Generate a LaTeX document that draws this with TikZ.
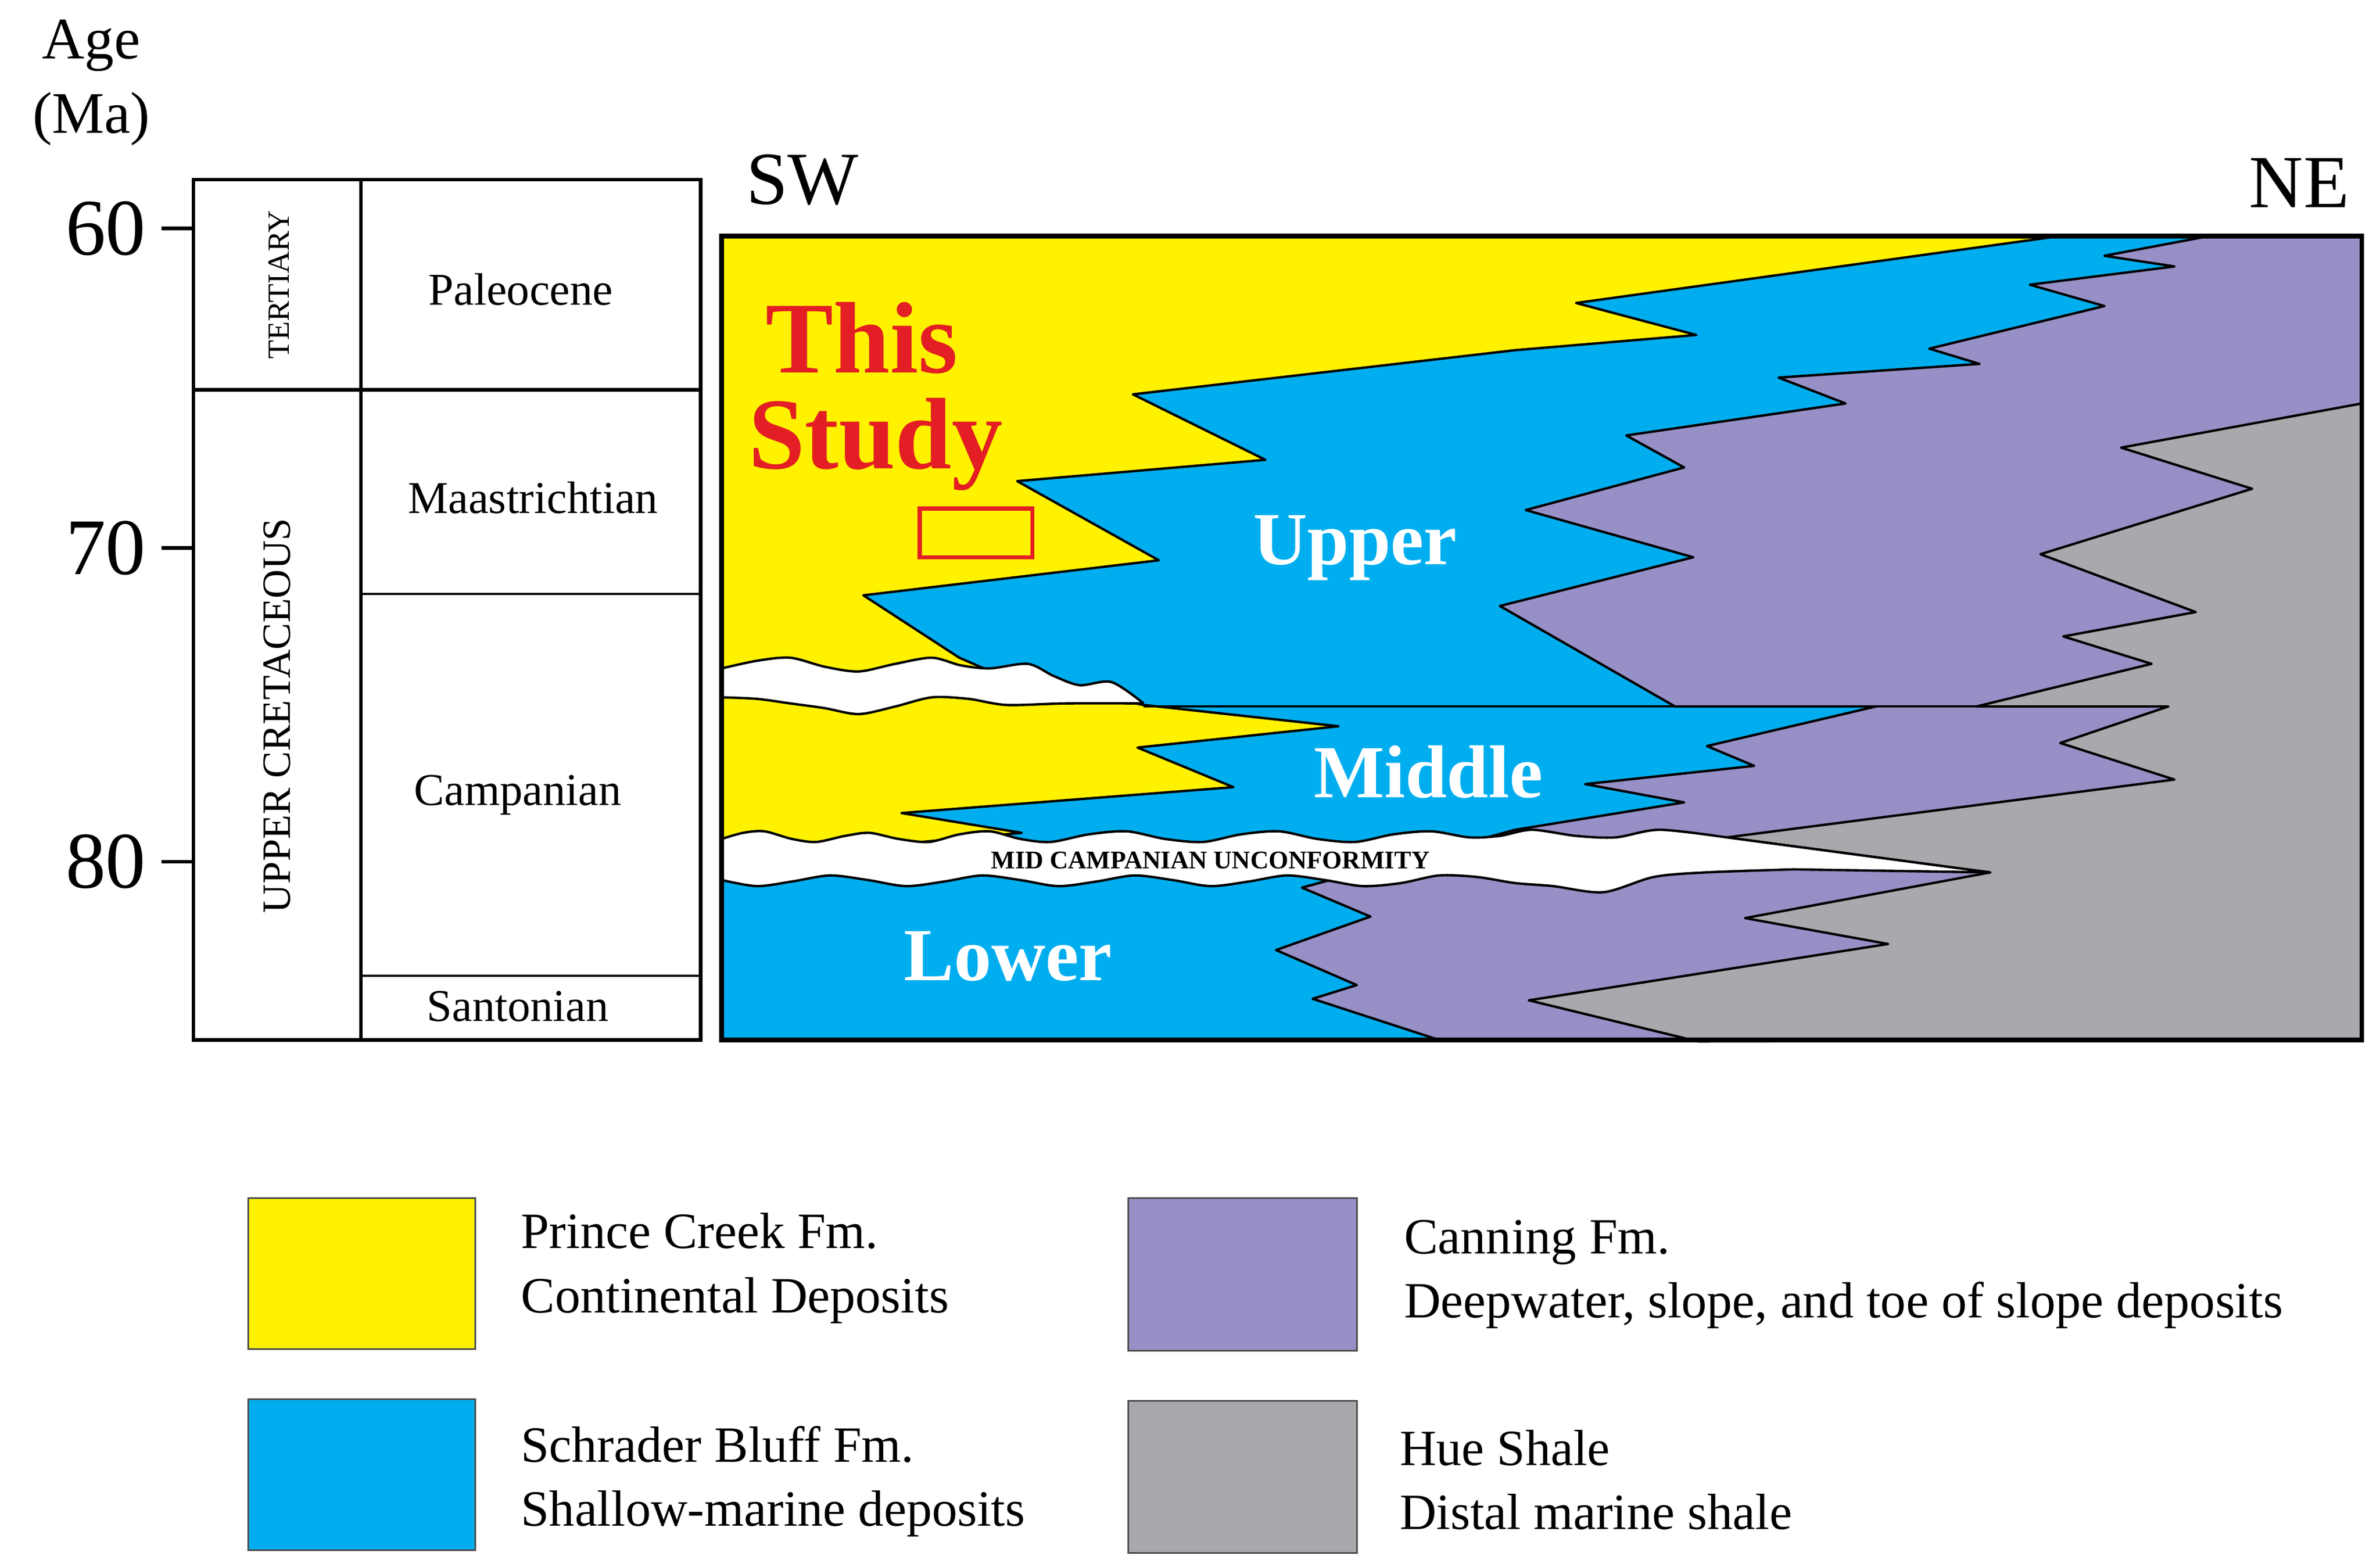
\documentclass[tikz,border=0pt]{standalone}
\usepackage{fontspec}
\setmainfont{Liberation Serif}
\begin{document}
\begin{tikzpicture}[x=0.02cm,y=-0.02cm,
  bnd/.style={draw=black,line width=0.9pt,line join=round},
  tbl/.style={draw=black,line width=1.4pt},
  lbl/.style={font=\fontsize{17}{20}\selectfont},
  leg/.style={font=\fontsize{19}{24}\selectfont,align=left,anchor=west},
  big/.style={font=\bfseries\fontsize{28}{30}\selectfont,text=white},
  legbox/.style={draw=black!70,line width=0.6pt}]
\definecolor{cY}{HTML}{FFF200}
\definecolor{cB}{HTML}{00AEEF}
\definecolor{cP}{HTML}{9690C6}
\definecolor{cG}{HTML}{A7A9AC}
\definecolor{cR}{HTML}{E31E24}
\useasboundingbox (0,0) rectangle (1563,1029);
% section fill
\fill[cY] (474,155) rectangle (1551,683);
\path[fill=cB,bnd] (1353,155) -- (1035,199) -- (1114,220) -- (995,230) -- (744,259) -- (831,302) -- (668,316) -- (761,368) -- (567,391) -- (630,432) -- (660,445) -- (751,463) -- (879,477) -- (747,491) -- (810,517) -- (592,534) -- (671,547) -- (474,565) -- (474,683) -- (1551,683) -- (1551,155) -- cycle;
\path[fill=cP,bnd] (1451,155) -- (1382,168) -- (1428,175) -- (1333,187) -- (1382,201) -- (1267,229) -- (1300,239) -- (1168,248) -- (1212,265) -- (1068,286) -- (1106,307) -- (1002,335) -- (1112,366) -- (985,398) -- (1100,464) -- (1232,464) -- (1121,490) -- (1152,503) -- (1041,515) -- (1106,527) -- (995,545) -- (855,583) -- (900,602) -- (838,624) -- (891,647) -- (862,656) -- (945,683) -- (1551,683) -- (1551,155) -- cycle;
\path[fill=cG,bnd] (1551,265) -- (1393,294) -- (1479,321) -- (1340,364) -- (1442,402) -- (1355,418) -- (1413,436) -- (1298,464) -- (1424,464) -- (1353,488) -- (1428,512) -- (1134,550) -- (1307,573) -- (1146,603) -- (1240,620) -- (1004,657) -- (1115,684) -- (1551,683) -- cycle;
\draw[bnd] (751,464) -- (1424,464);
% white bands
\path[fill=white] plot[smooth] coordinates {(474,439)(497,434)(519,432)(542,438)(564,441)(588,436)(612,432)(631,437)(650,439)(675,436)(692,444)(709,450)(730,448)(751,462)} -- plot[smooth] coordinates {(751,462)(700,462)(661,463)(636,459)(612,458)(588,464)(564,469)(541,465)(519,462)(497,459)(474,458)} -- cycle;
\draw[bnd] plot[smooth] coordinates {(474,439)(497,434)(519,432)(542,438)(564,441)(588,436)(612,432)(631,437)(650,439)(675,436)(692,444)(709,450)(730,448)(751,462)};
\draw[bnd] plot[smooth] coordinates {(751,462)(700,462)(661,463)(636,459)(612,458)(588,464)(564,469)(541,465)(519,462)(497,459)(474,458)};
\path[fill=white] plot[smooth] coordinates {(474,551)(488,547)(502,546)(520,551)(536,553)(555,549)(571,547)(590,551)(610,553)(630,548)(650,546)(670,551)(690,553)(715,548)(740,546)(765,551)(790,553)(815,548)(840,546)(865,551)(890,553)(915,548)(940,546)(965,550)(985,549)(1006,545)(1035,549)(1061,550)(1090,545)(1134,550)} -- (1307,573) -- plot[smooth] coordinates {(1178,571)(1120,573)(1086,576)(1053,586)(1020,582)(995,580)(970,576)(945,575)(920,580)(895,582)(870,578)(845,575)(820,579)(795,582)(770,578)(745,575)(720,579)(695,582)(670,578)(645,575)(620,579)(595,582)(570,578)(545,575)(520,579)(497,582)(474,578)} -- cycle;
\draw[bnd] plot[smooth] coordinates {(474,551)(488,547)(502,546)(520,551)(536,553)(555,549)(571,547)(590,551)(610,553)(630,548)(650,546)(670,551)(690,553)(715,548)(740,546)(765,551)(790,553)(815,548)(840,546)(865,551)(890,553)(915,548)(940,546)(965,550)(985,549)(1006,545)(1035,549)(1061,550)(1090,545)(1134,550)} -- (1307,573) -- (1178,571);
\draw[bnd] plot[smooth] coordinates {(1178,571)(1120,573)(1086,576)(1053,586)(1020,582)(995,580)(970,576)(945,575)(920,580)(895,582)(870,578)(845,575)(820,579)(795,582)(770,578)(745,575)(720,579)(695,582)(670,578)(645,575)(620,579)(595,582)(570,578)(545,575)(520,579)(497,582)(474,578)};
\draw[line width=1.8pt] (474,155) rectangle (1551,683);
% study box and labels
\draw[cR,line width=1.5pt] (604,334) rectangle (678,366);
\node[font=\bfseries\fontsize{38}{40}\selectfont,text=cR] (this) at (566,222) {This};
\node[font=\bfseries\fontsize{38}{40}\selectfont,text=cR] (study) at (575,292) {Study};
\node[big] (upper) at (890,360) {Upper};
\node[big] (middle) at (938,507) {Middle};
\node[big] (lower) at (662,628) {Lower};
\node[font=\bfseries\fontsize{9.5}{11}\selectfont] (mcu) at (795,565) {MID CAMPANIAN UNCONFORMITY};
\node[font=\fontsize{28}{30}\selectfont] (sw) at (527,118) {SW};
\node[font=\fontsize{28}{30}\selectfont] (ne) at (1510,120) {NE};
% table
\draw[tbl] (127,118) rectangle (460,683);
\draw[tbl] (237,118) -- (237,683);
\draw[tbl] (127,256) -- (460,256);
\draw[thick] (237,390) -- (460,390);
\draw[thick] (237,641) -- (460,641);
\node[rotate=90,font=\fontsize{11.5}{13}\selectfont] (tert) at (183,187) {TERTIARY};
\node[rotate=90,font=\fontsize{15}{17}\selectfont] (ucret) at (182,470) {UPPER CRETACEOUS};
\node[lbl] (pal) at (342,190) {Paleocene};
\node[lbl] (maa) at (350,327) {Maastrichtian};
\node[lbl] (cam) at (340,522) {Campanian};
\node[lbl] (san) at (340,661) {Santonian};
% axis
\foreach \yy/\t in {150/60,360/70,566/80}{
  \draw[line width=1.4pt] (106,\yy) -- (127,\yy);
  \node[font=\fontsize{30}{32}\selectfont,anchor=east] at (102,\yy) {\t};}
\node[font=\fontsize{22}{24}\selectfont] (age) at (60,30) {Age};
\node[font=\fontsize{22}{24}\selectfont] (ma) at (60,78) {(Ma)};
% legend
\path[fill=cY,legbox] (163,787) rectangle (312,886);
\path[fill=cB,legbox] (163,919) rectangle (312,1018);
\path[fill=cP,legbox] (741,787) rectangle (891,887);
\path[fill=cG,legbox] (741,920) rectangle (891,1020);
\node[leg] (l1) at (336,833) {Prince Creek Fm.\\Continental Deposits};
\node[leg] (l2) at (336,973) {Schrader Bluff Fm.\\Shallow-marine deposits};
\node[leg] (l3) at (916,837) {Canning Fm.\\Deepwater, slope, and toe of slope deposits};
\node[leg] (l4) at (913,972) {Hue Shale\\Distal marine shale};
\end{tikzpicture}
\end{document}
